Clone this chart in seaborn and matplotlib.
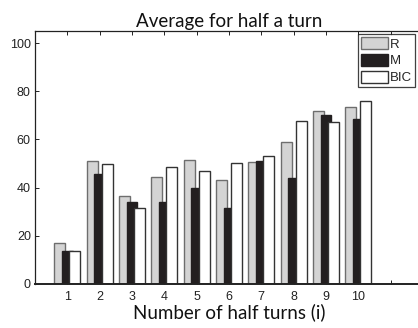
import matplotlib
matplotlib.use("Agg")
import matplotlib.pyplot as plt
import seaborn as sns
import pandas as pd
from matplotlib.patches import Patch

turns = ["1", "2", "3", "4", "5", "6", "7", "8", "9", "10"]
r_vals = [17.1, 51.2, 36.4, 44.5, 51.6, 43.0, 50.5, 58.8, 71.8, 73.6]
m_vals = [13.5, 45.6, 33.9, 34.2, 39.7, 31.5, 51.2, 43.9, 70.1, 68.4]
bic_vals = [13.8, 49.9, 31.5, 48.7, 47.0, 50.1, 53.2, 67.6, 67.3, 75.9]
methods = ["R", "M", "BIC"]
yticks = [0, 20, 40, 60, 80, 100]

df = pd.DataFrame({
    "turn": turns * 3,
    "value": r_vals + m_vals + bic_vals,
    "method": ["R"] * 10 + ["M"] * 10 + ["BIC"] * 10,
})

fills = {"R": "#d4d4d4", "M": "#231f20", "BIC": "#ffffff"}
edges = {"R": "#6e6e6e", "M": "#231f20", "BIC": "#333333"}

sns.set_style("white")
plt.rcParams["font.family"] = ["Liberation Sans", "DejaVu Sans"]

fig = plt.figure(figsize=(4.18, 3.28), dpi=100)
ax = fig.add_axes([35 / 418, 44 / 328, 388 / 418, 253 / 328])

sns.barplot(data=df, x="turn", y="value", hue="method", hue_order=methods,
            order=turns, palette=fills, width=0.69, ax=ax, legend=False,
            errorbar=None, saturation=1)

bar_w = 0.34
n = len(turns)
for i, p in enumerate(ax.patches[:3 * n]):
    meth = methods[i // n]
    cx = p.get_x() + p.get_width() / 2
    p.set_x(cx - bar_w / 2)
    p.set_width(bar_w)
    p.set_facecolor(fills[meth])
    p.set_edgecolor(edges[meth])
    p.set_linewidth(1.0)

ax.set_xlim(-1, 11)
ax.set_ylim(0, 105)
ax.set_yticks(yticks)
ax.set_yticklabels([str(v) for v in yticks])
ax.set_xticks(range(n + 1))
ax.set_xticklabels(turns + [""])
ax.tick_params(axis="both", direction="in", length=3, width=0.7,
               labelsize=9, colors="#222222", pad=3,
               top=True, right=True, left=True, bottom=True)
ax.tick_params(axis="x", pad=5)
for s in ["left", "top", "bottom"]:
    ax.spines[s].set_color("#222222")
    ax.spines[s].set_linewidth(0.9)
ax.spines["bottom"].set_linewidth(1.4)
ax.spines["right"].set_visible(False)

ax.set_title("Average for half a turn", fontsize=13.5, family=["Lato", "DejaVu Sans"],
             color="#111111", pad=3)
ax.set_xlabel("Number of half turns (i)", fontsize=13.5, family=["Lato", "DejaVu Sans"],
              color="#111111", labelpad=0)
ax.set_ylabel("")

handles = [Patch(facecolor=fills[m], edgecolor=edges[m], linewidth=1.0, label=m)
           for m in methods]
leg = ax.legend(handles=handles, loc="upper right",
                bbox_to_anchor=(415 / 418, (328 - 34) / 328),
                bbox_transform=fig.transFigure, fontsize=9.5,
                frameon=True, fancybox=False, borderpad=0.25, labelspacing=0.25,
                handlelength=2.0, handleheight=1.0, handletextpad=0.15,
                borderaxespad=0)
leg.get_frame().set_edgecolor("#111111")
leg.get_frame().set_linewidth(0.9)

fig.savefig("out.png", dpi=100)
